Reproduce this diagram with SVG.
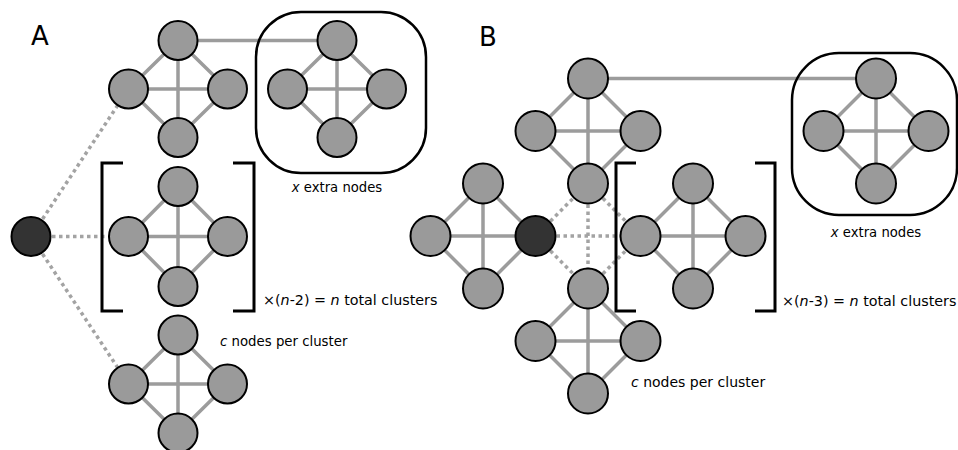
<svg xmlns="http://www.w3.org/2000/svg" width="958" height="450" viewBox="0 0 958 450">
<style>
.n{fill:#9a9a9a;stroke:#000;stroke-width:2}
.d{fill:#333;stroke:#000;stroke-width:2}
.e{stroke:#9c9c9c;stroke-width:3.5;fill:none}
.dot{stroke:#a3a3a3;stroke-width:3.5;stroke-dasharray:3.5 3.5;fill:none}
.br{fill:none;stroke:#000;stroke-width:3}
.box{fill:none;stroke:#000;stroke-width:2.5}
text{font-family:"DejaVu Sans","Liberation Sans",sans-serif;fill:#000}
.lab{font-size:26px}
.it{font-style:italic}
</style>
<rect width="958" height="450" fill="#fff"/>
<text class="lab" x="31" y="44.5">A</text>
<text class="lab" x="479" y="45.5">B</text>

<g id="connectors">
  <path class="e" d="M178,40.5L128.5,89M178,40.5L227.5,89M128.5,89L178,137.5M227.5,89L178,137.5M128.5,89H227.5M178,40.5V137.5"/>
  <path class="e" d="M337,40.5L287.5,89M337,40.5L386.5,89M287.5,89L337,137.5M386.5,89L337,137.5M287.5,89H386.5M337,40.5V137.5"/>
  <path class="e" d="M178,186.5L128.5,236.5M178,186.5L227.5,236.5M128.5,236.5L178,286.5M227.5,236.5L178,286.5M128.5,236.5H227.5M178,186.5V286.5"/>
  <path class="e" d="M178,335L128.5,384M178,335L227.5,384M128.5,384L178,433M227.5,384L178,433M128.5,384H227.5M178,335V433"/>
  <path class="e" d="M178,40.5H337"/>
  <path class="dot" d="M31,236.5L128.5,89M31,236.5H128.5M31,236.5L128.5,384"/>
  <path class="e" d="M588,78.5L535.5,131M588,78.5L640.5,131M535.5,131L588,183.5M640.5,131L588,183.5M535.5,131H640.5M588,78.5V183.5"/>
  <path class="e" d="M876,78.5L823.5,131M876,78.5L928.5,131M823.5,131L876,183.5M928.5,131L876,183.5M823.5,131H928.5M876,78.5V183.5"/>
  <path class="e" d="M483,183.5L430.5,236M483,183.5L535.5,236M430.5,236L483,288.5M535.5,236L483,288.5M430.5,236H535.5M483,183.5V288.5"/>
  <path class="e" d="M693,183.5L640.5,236M693,183.5L745.5,236M640.5,236L693,288.5M745.5,236L693,288.5M640.5,236H745.5M693,183.5V288.5"/>
  <path class="e" d="M588,288.5L535.5,341M588,288.5L640.5,341M535.5,341L588,393.5M640.5,341L588,393.5M535.5,341H640.5M588,288.5V393.5"/>
  <path class="e" d="M588,78.5H876"/>
  <path class="dot" d="M535.5,236L588,183.5M535.5,236L588,288.5M535.5,236H640.5M588,183.5V288.5M588,183.5L640.5,236M588,288.5L640.5,236"/>
</g>

<g id="boxes">
  <rect class="box" x="256" y="12" width="170" height="161" rx="45"/>
  <rect class="box" x="792" y="53" width="165" height="162" rx="47"/>
  <path class="br" d="M123,163H102V311H123M233,163H254V311H233"/>
  <path class="br" d="M636,163H616V311H636M755,163H775V311H755"/>
</g>

<g id="A-dark"><circle class="d" cx="31" cy="236.5" r="19.5"/></g>
<g id="A1-top"><circle class="n" cx="178" cy="40.5" r="19.5"/></g>
<g id="A1-left"><circle class="n" cx="128.5" cy="89" r="19.5"/></g>
<g id="A1-right"><circle class="n" cx="227.5" cy="89" r="19.5"/></g>
<g id="A1-bottom"><circle class="n" cx="178" cy="137.5" r="19.5"/></g>
<g id="AX-top"><circle class="n" cx="337" cy="40.5" r="19.5"/></g>
<g id="AX-left"><circle class="n" cx="287.5" cy="89" r="19.5"/></g>
<g id="AX-right"><circle class="n" cx="386.5" cy="89" r="19.5"/></g>
<g id="AX-bottom"><circle class="n" cx="337" cy="137.5" r="19.5"/></g>
<g id="A2-top"><circle class="n" cx="178" cy="186.5" r="19.5"/></g>
<g id="A2-left"><circle class="n" cx="128.5" cy="236.5" r="19.5"/></g>
<g id="A2-right"><circle class="n" cx="227.5" cy="236.5" r="19.5"/></g>
<g id="A2-bottom"><circle class="n" cx="178" cy="286.5" r="19.5"/></g>
<g id="A3-top"><circle class="n" cx="178" cy="335" r="19.5"/></g>
<g id="A3-left"><circle class="n" cx="128.5" cy="384" r="19.5"/></g>
<g id="A3-right"><circle class="n" cx="227.5" cy="384" r="19.5"/></g>
<g id="A3-bottom"><circle class="n" cx="178" cy="433" r="19.5"/></g>

<g id="BT-top"><circle class="n" cx="588" cy="78.5" r="20"/></g>
<g id="BT-left"><circle class="n" cx="535.5" cy="131" r="20"/></g>
<g id="BT-right"><circle class="n" cx="640.5" cy="131" r="20"/></g>
<g id="BT-bottom"><circle class="n" cx="588" cy="183.5" r="20"/></g>
<g id="BX-top"><circle class="n" cx="876" cy="78.5" r="20"/></g>
<g id="BX-left"><circle class="n" cx="823.5" cy="131" r="20"/></g>
<g id="BX-right"><circle class="n" cx="928.5" cy="131" r="20"/></g>
<g id="BX-bottom"><circle class="n" cx="876" cy="183.5" r="20"/></g>
<g id="BL-top"><circle class="n" cx="483" cy="183.5" r="20"/></g>
<g id="BL-left"><circle class="n" cx="430.5" cy="236" r="20"/></g>
<g id="B-dark"><circle class="d" cx="535.5" cy="236" r="20"/></g>
<g id="BL-bottom"><circle class="n" cx="483" cy="288.5" r="20"/></g>
<g id="BM-top"><circle class="n" cx="693" cy="183.5" r="20"/></g>
<g id="BM-left"><circle class="n" cx="640.5" cy="236" r="20"/></g>
<g id="BM-right"><circle class="n" cx="745.5" cy="236" r="20"/></g>
<g id="BM-bottom"><circle class="n" cx="693" cy="288.5" r="20"/></g>
<g id="BB-top"><circle class="n" cx="588" cy="288.5" r="20"/></g>
<g id="BB-left"><circle class="n" cx="535.5" cy="341" r="20"/></g>
<g id="BB-right"><circle class="n" cx="640.5" cy="341" r="20"/></g>
<g id="BB-bottom"><circle class="n" cx="588" cy="393.5" r="20"/></g>

<g id="labels">
  <text x="337" y="192" font-size="13.2" text-anchor="middle"><tspan class="it">x</tspan> extra nodes</text>
  <text x="263" y="305" font-size="14.3">×(<tspan class="it">n</tspan>-2) = <tspan class="it">n</tspan> total clusters</text>
  <text x="220" y="345.5" font-size="13.3"><tspan class="it">c</tspan> nodes per cluster</text>
  <text x="876" y="237" font-size="13.2" text-anchor="middle"><tspan class="it">x</tspan> extra nodes</text>
  <text x="782" y="306" font-size="14.3">×(<tspan class="it">n</tspan>-3) = <tspan class="it">n</tspan> total clusters</text>
  <text x="631" y="387" font-size="14"><tspan class="it">c</tspan> nodes per cluster</text>
</g>
</svg>
